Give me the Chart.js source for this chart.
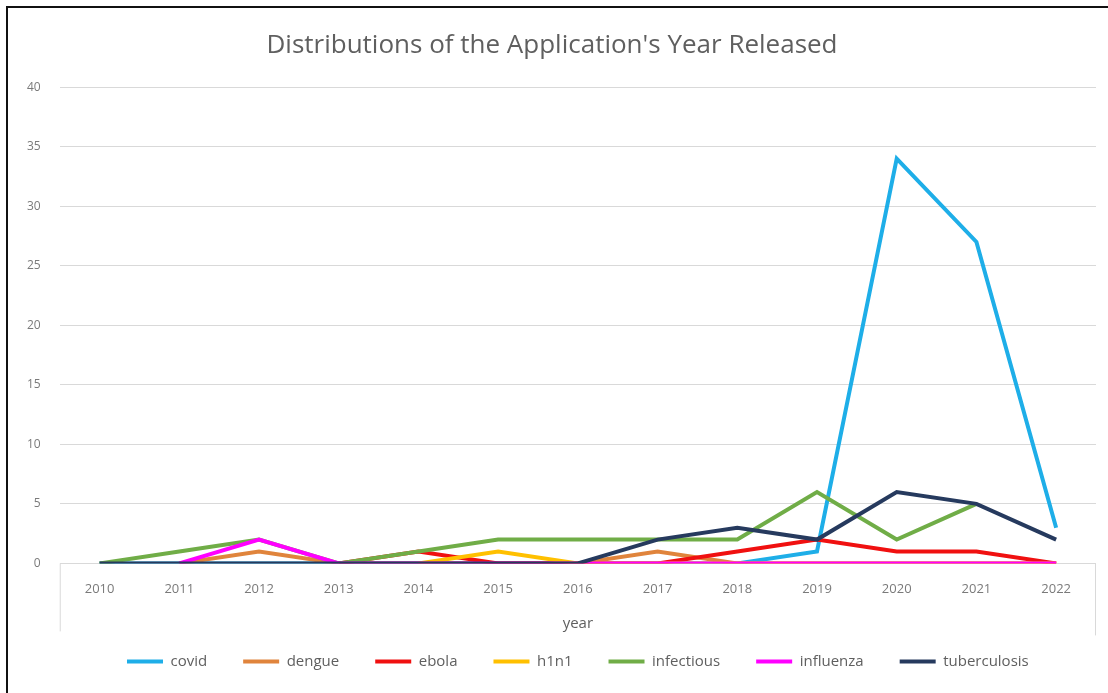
<!DOCTYPE html>
<html>
<head>
<meta charset="utf-8">
<script src="https://cdn.jsdelivr.net/npm/chart.js@4"></script>
<style>
  html, body { margin: 0; padding: 0; background: #fff; }
  #frame {
    position: absolute; left: 6px; top: 6px; width: 1102px; height: 687px;
    border-top: 2px solid #111; border-left: 2px solid #111;
    box-sizing: border-box;
  }
  #wrap { position: absolute; left: 0; top: 0; width: 1100px; height: 685px; }
</style>
</head>
<body>
<div id="frame"><div id="wrap"><canvas id="chart1"></canvas></div></div>
<script>
// data
const years = ['2010','2011','2012','2013','2014','2015','2016','2017','2018','2019','2020','2021','2022'];
const covid        = [0, 0, 0, 0, 0, 0, 0, 0, 0, 1, 34, 27, 3];
const dengue       = [null, 0, 1, 0, 0, 0, 0, 1, 0, 0, 0, 0, 0];
const ebola        = [null, null, null, 0, 1, 0, 0, 0, 1, 2, 1, 1, 0];
const h1n1         = [null, null, null, null, 0, 1, 0, 0, 0, 0, 0, 0, 0];
const infectious   = [0, 1, 2, 0, 1, 2, 2, 2, 2, 6, 2, 5, null];
const influenza    = [null, 0, 2, 0, 0, 0, 0, 0, 0, 0, 0, 0, 0];
const tuberculosis = [0, 0, 0, 0, 0, 0, 0, 2, 3, 2, 6, 5, 2];

const seriesNames = ['covid', 'dengue', 'ebola', 'h1n1', 'infectious', 'influenza', 'tuberculosis'];
const seriesData = [covid, dengue, ebola, h1n1, infectious, influenza, tuberculosis];
const seriesColors = ['#1EAEE8', '#E0843C', '#F01010', '#FFC000', '#70AD47', '#FF00FF', '#263A5E'];

const gray = '#5f5f5f';
const tickGray = '#7a7a7a';
const font = '"Open Sans", Lato, sans-serif';

// the two short edge lines under the category axis (Excel style)
const edgeLines = {
  id: 'edgeLines',
  afterDraw(chart) {
    const { ctx, chartArea } = chart;
    ctx.save();
    ctx.strokeStyle = '#d9d9d9';
    ctx.lineWidth = 1;
    ctx.beginPath();
    ctx.moveTo(chartArea.left + 0.5, chartArea.bottom);
    ctx.lineTo(chartArea.left + 0.5, chartArea.bottom + 68);
    ctx.moveTo(chartArea.right - 0.5, chartArea.bottom);
    ctx.lineTo(chartArea.right - 0.5, chartArea.bottom + 72);
    ctx.stroke();
    ctx.restore();
  }
};

const ctx = document.getElementById('chart1').getContext('2d');
new Chart(ctx, {
  type: 'line',
  data: {
    labels: years,
    datasets: seriesNames.map((name, i) => ({
      label: name,
      data: seriesData[i],
      borderColor: seriesColors[i],
      backgroundColor: seriesColors[i],
      borderWidth: 4,
      pointRadius: 0,
      tension: 0,
      order: seriesNames.length - i
    }))
  },
  options: {
    responsive: true,
    maintainAspectRatio: false,
    animation: false,
    layout: { padding: { left: 0, right: 12, top: 14, bottom: 14 } },
    plugins: {
      title: {
        display: true,
        text: "Distributions of the Application's Year Released",
        color: gray,
        font: { family: font, size: 26, weight: 'normal' },
        padding: { top: 8, bottom: 26 }
      },
      legend: {
        position: 'bottom',
        fullSize: false,
        labels: {
          usePointStyle: true,
          pointStyle: 'line',
          pointStyleWidth: 36,
          color: gray,
          font: { family: font, size: 15 },
          padding: 36,
          sort: (a, b) => a.datasetIndex - b.datasetIndex
        }
      },
      tooltip: { enabled: false }
    },
    scales: {
      x: {
        offset: true,
        grid: { display: false },
        border: { display: false },
        ticks: { color: tickGray, font: { family: font, size: 13 }, padding: 10, maxRotation: 0 },
        title: {
          display: true, text: 'year', color: gray,
          font: { family: font, size: 15 }, padding: { top: 8, bottom: -15 }
        }
      },
      y: {
        min: 0,
        max: 40,
        ticks: { stepSize: 5, color: tickGray, font: { family: font, size: 12 }, padding: 19 },
        grid: { color: '#d9d9d9', drawTicks: false },
        border: { display: false }
      }
    }
  },
  plugins: [edgeLines]
});
</script>
</body>
</html>
